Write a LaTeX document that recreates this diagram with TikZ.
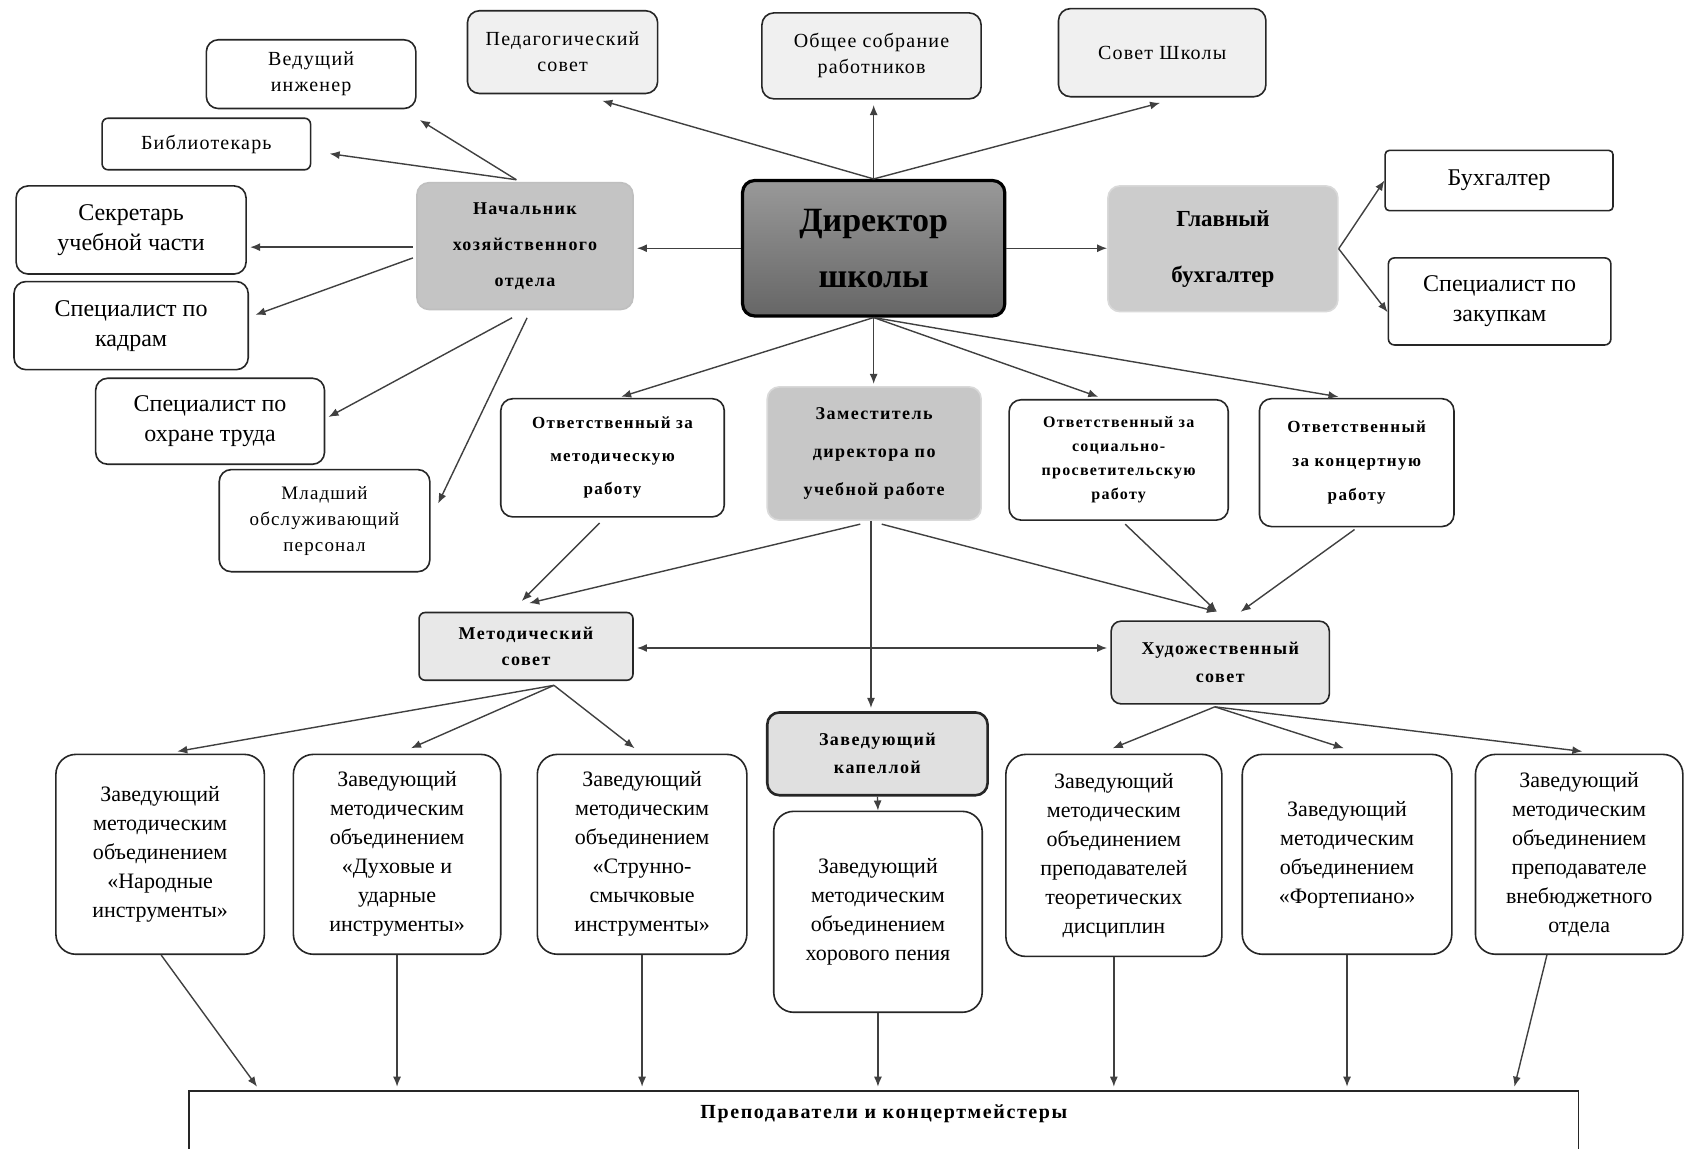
\documentclass[tikz,border=0pt]{standalone}
\usepackage{fontspec}
\setmainfont{Liberation Serif}
\newfontfamily\spf[LetterSpace=6]{Liberation Serif}
\newfontfamily\spb[LetterSpace=8]{Liberation Serif}
\usetikzlibrary{calc,arrows.meta}
\tikzset{
  rb/.style args={#1/#2/#3/#4}{minimum width={(#3-#1)*0.5373pt}, minimum height={(#4-#2)*0.5373pt}, at={({(#1+#3)/2},{(#2+#4)/2})}},
  box/.style={draw=black!85, line width=0.8pt, rounded corners=6pt, align=center, inner sep=0pt, fill=white},
  zv/.style={box, rounded corners=10pt, font=\fontsize{11}{14.5}\selectfont},
  sm/.style={font=\spf\fontsize{10}{13}\selectfont},
  md/.style={font=\fontsize{12}{15}\selectfont},
  smb/.style 2 args={font=\spb\bfseries\fontsize{#1}{#2}\selectfont},
  arr/.style={draw=black!75, line width=0.7pt, -{Latex[length=5pt,width=4pt]}},
  arrb/.style={draw=black!75, line width=0.7pt, {Latex[length=5pt,width=4pt]}-{Latex[length=5pt,width=4pt]}},
}
\begin{document}
\begin{tikzpicture}[x=0.5373pt,y=-0.5373pt]
\path[use as bounding box, clip] (0,0) rectangle (1568,1069);
\fill[white] (0,0) rectangle (1568,1069);

% top row
\node[box, fill=black!6, sm, rb=435/10/612/87] (ped) {Педагогический\\совет};
\node[box, fill=black!6, sm, rb=709/12/913/92] (obs) {Общее собрание\\работников};
\node[box, fill=black!6, sm, rb=985/8/1178/90] (sov) {Совет Школы};

% left column
\node[box, sm, rb=192/37/387/101] (ved) {Ведущий\\инженер};
\node[box, sm, rounded corners=3pt, rb=95/110/289/158] (bib) {Библиотекарь};
\node[box, md, rb=15/173/229/255] (sec) {Секретарь\\учебной части};
\node[box, md, rb=13/262/231/344] (kad) {Специалист по\\кадрам};
\node[box, md, rb=89/352/302/432] (ohr) {Специалист по\\охране труда};
\node[box, font=\spf\fontsize{9.5}{13}\selectfont, rb=204/437/400/532] (ml) {Младший\\обслуживающий\\персонал};

% centre row
\node[box, draw=black!25, fill=black!23, smb={9}{18}, rb=388/170/589/288] (nach) {Начальник\\хозяйственного\\отдела};
\node[box, draw=black, line width=1.6pt, top color=black!40, bottom color=black!60, font=\bfseries\fontsize{17}{28}\selectfont, rb=691/168/935/294] (dir) {Директор\\школы};
\node[box, draw=black!15, fill=black!20, font=\bfseries\fontsize{11.5}{28}\selectfont, rb=1031/173/1245/290] (glb) {Главный\\бухгалтер};
\node[box, md, rounded corners=2pt, rb=1289/140/1501/196] (buh) {Бухгалтер};
\node[box, md, rounded corners=3pt, rb=1292/240/1499/321] (zak) {Специалист по\\закупкам};

% second row
\node[box, smb={8.5}{16.5}, rb=466/371/674/481] (otm) {Ответственный за\\методическую\\работу};
\node[box, draw=black!15, fill=black!22, smb={9}{19}, rb=714/360/913/484] (zam) {Заместитель\\директора по\\учебной работе};
\node[box, smb={8}{12}, rb=939/372/1143/484] (soc) {Ответственный за\\социально-\\просветительскую\\работу};
\node[box, smb={8.5}{17}, rb=1172/371/1353/490] (kon) {Ответственный\\за концертную\\работу};

% councils
\node[box, fill=black!9, rounded corners=3pt, smb={9}{13}, rb=390/570/589/633] (mets) {Методический\\совет};
\node[box, fill=black!10, rounded corners=5pt, smb={9}{14}, rb=1034/578/1237/655] (hud) {Художественный\\совет};
\node[box, fill=black!12, line width=1.3pt, smb={9}{14}, rb=714/663/919/740] (kap) {Заведующий\\капеллой};

% heads of departments
\node[zv, rb=52/702/246/888] (nar) {Заведующий\\методическим\\объединением\\«Народные\\инструменты»};
\node[zv, rb=273/702/466/888] (duh) {Заведующий\\методическим\\объединением\\«Духовые и\\ударные\\инструменты»};
\node[zv, rb=500/702/695/888] (str) {Заведующий\\методическим\\объединением\\«Струнно-\\смычковые\\инструменты»};
\node[zv, rb=720/755/914/942] (hor) {Заведующий\\методическим\\объединением\\хорового пения};
\node[zv, rb=936/702/1137/890] (teo) {Заведующий\\методическим\\объединением\\преподавателей\\теоретических\\дисциплин};
\node[zv, rb=1156/702/1351/888] (fort) {Заведующий\\методическим\\объединением\\«Фортепиано»};
\node[zv, rb=1373/702/1566/888] (vne) {Заведующий\\методическим\\объединением\\преподавателе\\внебюджетного\\отдела};

% teachers
\node[draw=black!85, line width=0.8pt, inner sep=0pt, rb=176/1015/1469/1090,
  label={[anchor=center, yshift=-11.8pt, font=\spb\bfseries\fontsize{10}{13}\selectfont]north:Преподаватели и концертмейстеры}] (prep) {};

% director connectors
\draw[arr] (dir.north) -- ($(ped.south)+(37,6)$);
\draw[arr] (dir.north) -- ($(dir.north |- obs.south)+(0,5)$);
\draw[arr] (dir.north) -- ($(sov.south)+(-2,5)$);
\draw[arr] (dir.west) -- ($(dir.west -| nach.east)+(3,0)$);
\draw[arr] (dir.east) -- (dir.east -| glb.west);
\draw[arr] (glb.east) -- (buh.west);
\draw[arr] (glb.east) -- ($(zak.west)+(0,10)$);

% chief of household
\draw[arr] ($(nach.north)+(-8,-2)$) -- ($(ved.south east)+(3,10)$);
\draw[arr] ($(nach.north)+(-8,-2)$) -- ($(bib.east)+(17,9)$);
\draw[arr] ($(nach.west)+(-3,1)$) -- ($(sec.east)+(3,16)$);
\draw[arr] ($(nach.west)+(-3,11)$) -- ($(kad.east)+(6,-10)$);
\draw[arr] ($(nach.south)+(-12,7)$) -- ($(ohr.east)+(3,-4)$);
\draw[arr] ($(nach.south)+(2,7)$) -- ($(ml.east)+(7,-16)$);

% director down
\draw[arr] (dir.south) -- ($(otm.north)+(8,-1)$);
\draw[arr] (dir.south) -- ($(dir.south |- zam.north)+(0,-2)$);
\draw[arr] (dir.south) -- ($(soc.north)+(-19,-2)$);
\draw[arr] (dir.south) -- ($(kon.north)+(-17,-1)$);

% to councils
\draw[arr] ($(otm.south)+(-12,5)$) -- ($(mets.north)+(-4,-10)$);
\draw[arr] ($(zam.south)+(-13,3)$) -- ($(mets.north)+(3,-8)$);
\draw[arr] ($(zam.south)+(7,3)$) -- ($(hud.north)+(-3,-8)$);
\draw[arr] ($(soc.south)+(6,3)$) -- ($(hud.north)+(-3,-8)$);
\draw[arr] ($(kon.south)+(-2,2)$) -- ($(hud.north)+(19,-8)$);
\draw[arr] ($(zam.south)+(-3,0)$) -- ($(zam.south |- kap.north)+(-3,-3)$);
\draw[arrb] ($(mets.east)+(3,1.5)$) -- ($(mets.east -| hud.west)+(-3,1.5)$);

% councils to heads
\draw[arr] ($(mets.south)+(26,4)$) -- ($(nar.north)+(16,-2)$);
\draw[arr] ($(mets.south)+(26,4)$) -- ($(duh.north)+(13,-5)$);
\draw[arr] ($(mets.south)+(26,4)$) -- ($(str.north)+(-7,-5)$);
\draw[arr] ($(hud.south)+(-5,2)$) -- ($(teo.north)+(-1,-5)$);
\draw[arr] ($(hud.south)+(-5,2)$) -- ($(fort.north)+(-3,-5)$);
\draw[arr] ($(hud.south)+(-5,2)$) -- ($(vne.north)+(3,-2)$);
\draw[arr] (kap.south) -- (hor.north);

% heads to teachers
\draw[arr] ($(nar.south)+(1,0)$) -- ($(prep.north west)+(64,-3)$);
\draw[arr] (duh.south) -- ($(duh.south |- prep.north)+(0,-3)$);
\draw[arr] (str.south) -- ($(str.south |- prep.north)+(0,-3)$);
\draw[arr] (hor.south) -- ($(hor.south |- prep.north)+(0,-3)$);
\draw[arr] (teo.south) -- ($(teo.south |- prep.north)+(0,-3)$);
\draw[arr] (fort.south) -- ($(fort.south |- prep.north)+(0,-3)$);
\draw[arr] ($(vne.south)+(-30,0)$) -- ($(prep.north west)+(1234,-3)$);
\end{tikzpicture}
\end{document}
